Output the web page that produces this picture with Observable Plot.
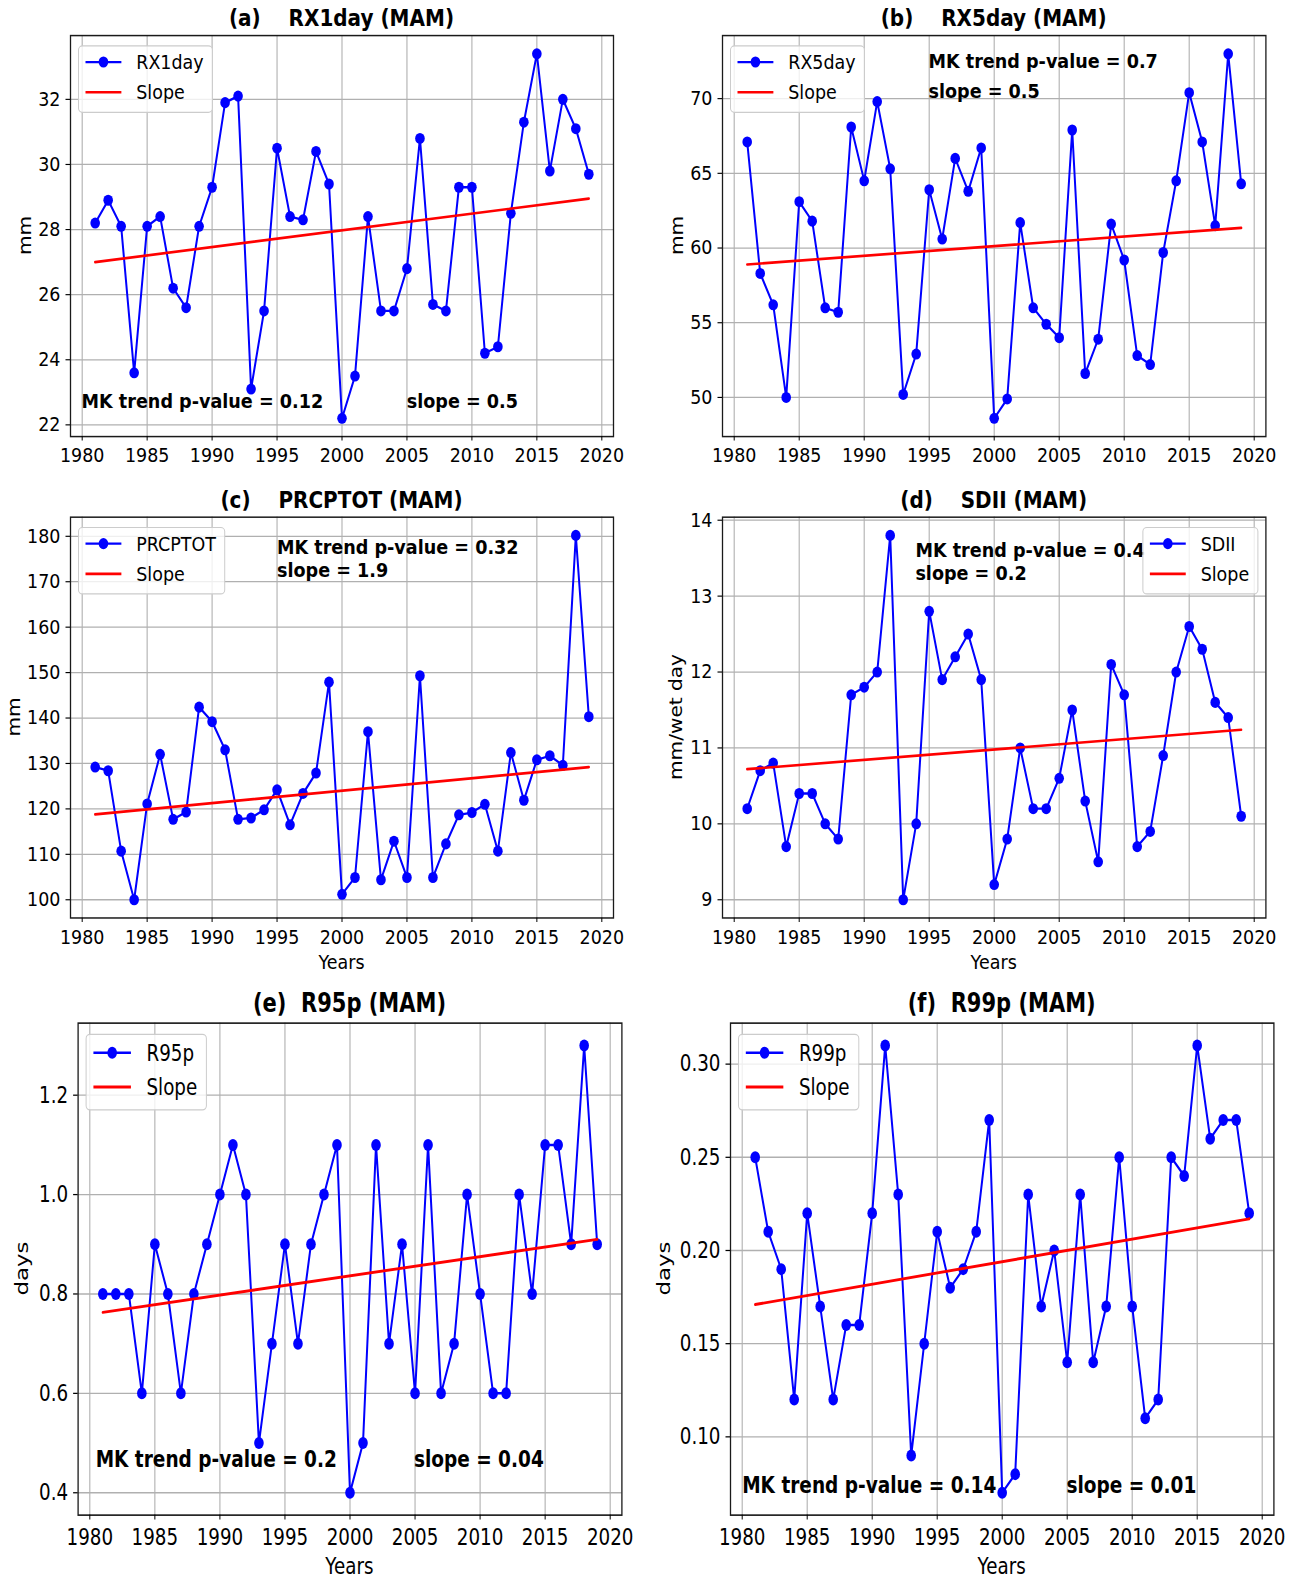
<!DOCTYPE html>
<html><head><meta charset="utf-8">
<script src="https://cdn.jsdelivr.net/npm/d3@7"></script>
<script src="https://cdn.jsdelivr.net/npm/@observablehq/plot@0.6"></script>
<style>
html,body{margin:0;padding:0;background:#fff;}
#chart{position:relative;width:1292px;height:1579px;background:#fff;overflow:hidden;}
#chart svg{position:absolute;overflow:visible;}
</style></head><body><div id="chart"></div>
<script>
// ---------------- data ----------------
const years = [1981,1982,1983,1984,1985,1986,1987,1988,1989,1990,1991,1992,1993,1994,1995,1996,1997,1998,1999,2000,
               2001,2002,2003,2004,2005,2006,2007,2008,2009,2010,2011,2012,2013,2014,2015,2016,2017,2018,2019];

const rx1day = [28.2,28.9,28.1,23.6,28.1,28.4,26.2,25.6,28.1,29.3,31.9,32.1,23.1,25.5,30.5,28.4,28.3,30.4,29.4,22.2,
                23.5,28.4,25.5,25.5,26.8,30.8,25.7,25.5,29.3,29.3,24.2,24.4,28.5,31.3,33.4,29.8,32.0,31.1,29.7];
const rx5day = [67.1,58.3,56.2,50.0,63.1,61.8,56.0,55.7,68.1,64.5,69.8,65.3,50.2,52.9,63.9,60.6,66.0,63.8,66.7,48.6,
                49.9,61.7,56.0,54.9,54.0,67.9,51.6,53.9,61.6,59.2,52.8,52.2,59.7,64.5,70.4,67.1,61.5,73.0,64.3];
const prcptot = [129.2,128.4,110.7,100.0,121.1,132.0,117.7,119.3,142.4,139.2,133.0,117.7,118.0,119.8,124.2,116.5,123.4,127.9,147.9,101.2,
                 104.9,137.0,104.4,112.9,104.9,149.3,104.9,112.3,118.7,119.2,121.0,110.7,132.4,121.9,130.8,131.7,129.6,180.2,140.3];
const sdii = [10.2,10.7,10.8,9.7,10.4,10.4,10.0,9.8,11.7,11.8,12.0,13.8,9.0,10.0,12.8,11.9,12.2,12.5,11.9,9.2,
              9.8,11.0,10.2,10.2,10.6,11.5,10.3,9.5,12.1,11.7,9.7,9.9,10.9,12.0,12.6,12.3,11.6,11.4,10.1];
const r95p = [0.8,0.8,0.8,0.6,0.9,0.8,0.6,0.8,0.9,1.0,1.1,1.0,0.5,0.7,0.9,0.7,0.9,1.0,1.1,0.4,
              0.5,1.1,0.7,0.9,0.6,1.1,0.6,0.7,1.0,0.8,0.6,0.6,1.0,0.8,1.1,1.1,0.9,1.3,0.9];
const r99p = [0.25,0.21,0.19,0.12,0.22,0.17,0.12,0.16,0.16,0.22,0.31,0.23,0.09,0.15,0.21,0.18,0.19,0.21,0.27,0.07,
              0.08,0.23,0.17,0.20,0.14,0.23,0.14,0.17,0.25,0.17,0.11,0.12,0.25,0.24,0.31,0.26,0.27,0.27,0.22];

// Sen's slope trend line end points (first and last year)
const trendYears = [1981, 2019];
const rx1daySlope = [27.0, 28.95];
const rx5daySlope = [58.9, 61.35];
const prcptotSlope = [118.8, 129.2];
const sdiiSlope = [10.72, 11.24];
const r95pSlope = [0.763, 0.91];
const r99pSlope = [0.171, 0.217];

// tick labels
const xTicks = [1980,1985,1990,1995,2000,2005,2010,2015,2020];
const rx1dayTicks = [22,24,26,28,30,32];
const rx5dayTicks = [50,55,60,65,70];
const prcptotTicks = [100,110,120,130,140,150,160,170,180];
const sdiiTicks = [9,10,11,12,13,14];
const r95pTicks = [0.4,0.6,0.8,1.0,1.2];
const r99pTicks = [0.10,0.15,0.20,0.25,0.30];

// texts
const titles = ["(a)    RX1day (MAM)","(b)    RX5day (MAM)","(c)    PRCPTOT (MAM)","(d)    SDII (MAM)","(e)  R95p (MAM)","(f)  R99p (MAM)"];
const seriesNames = ["RX1day","RX5day","PRCPTOT","SDII","R95p","R99p"];
const mkTexts = ["MK trend p-value = 0.12","MK trend p-value = 0.7","MK trend p-value = 0.32","MK trend p-value = 0.4","MK trend p-value = 0.2","MK trend p-value = 0.14"];
const slopeTexts = ["slope = 0.5","slope = 0.5","slope = 1.9","slope = 0.2","slope = 0.04","slope = 0.01"];
const yLabels = ["mm","mm","mm","mm/wet day","days","days"];
const xLabels = [null,null,"Years","Years","Years","Years"];

// ---------------- layout (page pixels) ----------------
const FONT = "'DejaVu Sans', 'Liberation Sans', sans-serif";
const layouts = [
  {left:0,   top:0,   w:646, h:470, s:1.15, fs:17.5, nfs:17.6, tfs:20, L:70,   R:613,    T:35,    B:436,   titleY:18,   yLabX:26.2,  xLabY:null,  mk:[81.6,400.8],  sl:[406.8,400.8], leg:"left",  xPad:6},
  {left:646, top:0,   w:646, h:470, s:1.15, fs:17.5, nfs:17.6, tfs:20, L:722,  R:1265.4, T:35,    B:436,   titleY:18,   yLabX:677.7, xLabY:null,  mk:[928.5,60.4],  sl:[928.5,90.6],  leg:"left",  xPad:6},
  {left:0,   top:470, w:646, h:505, s:1.15, fs:17.5, nfs:17.6, tfs:20, L:70,   R:613,    T:516.6, B:917.4, titleY:499.5, yLabX:15,   xLabY:961.7, mk:[277,546.8],   sl:[277,570],     leg:"left",  xPad:6},
  {left:646, top:470, w:646, h:505, s:1.15, fs:17.5, nfs:17.6, tfs:20, L:722,  R:1265.4, T:516.6, B:917.4, titleY:499.5, yLabX:676.7, xLabY:961.7, mk:[915.4,549.8], sl:[915.4,573],   leg:"right", xPad:6},
  {left:0,   top:975, w:646, h:604, s:1.25, fs:18.3, nfs:18.5, tfs:21, L:77.6, R:621.4,  T:1022.5, B:1514.5, titleY:1003, yLabX:22.2, xLabY:1566, mk:[95.7,1459.1],  sl:[413.9,1459.1], leg:"left", xPad:7},
  {left:646, top:975, w:646, h:604, s:1.25, fs:18.3, nfs:18.5, tfs:21, L:730,  R:1273.4, T:1022.5, B:1514.5, titleY:1003, yLabX:664.6, xLabY:1566, mk:[742.2,1484.3], sl:[1066.4,1484.3], leg:"left", xPad:7}
];

const seriesList = [rx1day, rx5day, prcptot, sdii, r95p, r99p];
const slopeList = [rx1daySlope, rx5daySlope, prcptotSlope, sdiiSlope, r95pSlope, r99pSlope];
const tickList = [rx1dayTicks, rx5dayTicks, prcptotTicks, sdiiTicks, r95pTicks, r99pTicks];
const fmtList = ["d","d","d","d",".1f",".2f"];

const BLUE = "#0000ff", RED = "#ff0000", GRID = "#b0b0b0";
const DOT_R = 4.8;
const container = document.getElementById("chart");

function build(i) {
  const g = layouts[i], s = g.s, fs = g.fs;
  const values = seriesList[i];
  const data = years.map((year, k) => ({year, value: values[k]}));
  const trend = trendYears.map((year, k) => ({year, value: slopeList[i][k]}));
  const [ylo, yhi] = d3.extent(values);
  const ypad = (yhi - ylo) * 0.05;
  const [xlo, xhi] = d3.extent(years);
  const xpad = (xhi - xlo) * 0.05;
  const hU = g.h / s;
  const mTop = (g.T - g.top) / s;
  const mBottom = (g.top + g.h - g.B) / s;
  const mLeft = g.L - g.left;
  const mRight = g.left + g.w - g.R;

  const svg = Plot.plot({
    width: g.w, height: hU,
    marginLeft: mLeft, marginRight: mRight, marginTop: mTop, marginBottom: mBottom,
    style: {fontFamily: FONT, fontSize: fs + "px", color: "#000", background: "transparent", overflow: "visible"},
    x: {domain: [xlo - xpad, xhi + xpad], label: null},
    y: {domain: [ylo - ypad, yhi + ypad], label: null},
    marks: [
      Plot.gridX({ticks: xTicks, stroke: GRID, strokeOpacity: 1, strokeWidth: 1.1}),
      Plot.gridY({ticks: tickList[i], stroke: GRID, strokeOpacity: 1, strokeWidth: 1.1}),
      Plot.line(data, {x: "year", y: "value", stroke: BLUE, strokeWidth: 2}),
      Plot.dot(data, {x: "year", y: "value", r: DOT_R, fill: BLUE}),
      Plot.line(trend, {x: "year", y: "value", stroke: RED, strokeWidth: 2.3}),
      Plot.frame({stroke: "#1a1a1a", strokeWidth: 1.3}),
      Plot.axisX({ticks: xTicks, tickFormat: d => String(d), tickSize: 4, tickPadding: g.xPad, label: null, fontSize: fs}),
      Plot.axisY({ticks: tickList[i], tickFormat: d3.format(fmtList[i]), tickSize: 4.5, tickPadding: 5.5, label: null, fontSize: fs})
    ]
  });

  svg.setAttribute("width", g.w);
  svg.setAttribute("height", g.h);
  svg.setAttribute("viewBox", `0 0 ${g.w} ${hU}`);
  svg.setAttribute("preserveAspectRatio", "none");
  svg.style.left = g.left + "px";
  svg.style.top = g.top + "px";
  svg.style.width = g.w + "px";
  svg.style.height = g.h + "px";
  svg.style.maxWidth = "none";
  container.appendChild(svg);

  const root = d3.select(svg);
  const ly = y => (y - g.top) / s;
  const lx = x => x - g.left;
  const cx = (mLeft + g.w - mRight) / 2;
  const cyFrame = (mTop + hU - mBottom) / 2;

  // title
  root.append("text").attr("x", cx).attr("y", ly(g.titleY)).attr("dy", "0.36em")
    .attr("text-anchor", "middle").attr("xml:space", "preserve").style("white-space", "pre")
    .style("font-family", FONT).style("font-weight", "bold").style("font-size", g.tfs + "px")
    .attr("fill", "#000").text(titles[i]);

  // y label
  root.append("text").attr("transform", `translate(${lx(g.yLabX)},${cyFrame}) rotate(-90)`)
    .attr("dy", "0.3em").attr("text-anchor", "middle")
    .style("font-family", FONT).style("font-size", fs + "px").attr("fill", "#000").text(yLabels[i]);

  // x label
  if (xLabels[i]) {
    root.append("text").attr("x", cx).attr("y", ly(g.xLabY)).attr("dy", "0.36em")
      .attr("text-anchor", "middle").style("font-family", FONT).style("font-size", fs + "px")
      .attr("fill", "#000").text(xLabels[i]);
  }

  // MK annotations
  for (const [pos, txt] of [[g.mk, mkTexts[i]], [g.sl, slopeTexts[i]]]) {
    root.append("text").attr("x", lx(pos[0])).attr("y", ly(pos[1])).attr("dy", "0.36em")
      .attr("text-anchor", "start").style("text-anchor", "start")
      .style("font-family", FONT).style("font-weight", "bold").style("font-size", g.nfs + "px")
      .attr("fill", "#000").text(txt);
  }

  // legend
  const lg = root.append("g").attr("text-anchor", "start").style("text-anchor", "start");
  const rect = lg.append("rect");
  const boxTop = mTop + 9.5;
  const row1 = boxTop + 0.8 * fs, row2 = row1 + 1.5 * fs;
  const t1 = lg.append("text").attr("y", row1).attr("dy", "0.36em").attr("text-anchor", "start")
    .style("font-family", FONT).style("font-size", fs + "px").attr("fill", "#000").text(seriesNames[i]);
  const t2 = lg.append("text").attr("y", row2).attr("dy", "0.36em").attr("text-anchor", "start")
    .style("font-family", FONT).style("font-size", fs + "px").attr("fill", "#000").text("Slope");
  const tw = Math.max(t1.node().getComputedTextLength(), t2.node().getComputedTextLength());
  const boxW = 3.3 * fs + tw + 0.5 * fs;
  const boxH = 3.3 * fs;
  const boxLeft = g.leg === "left" ? mLeft + 8.5 : (g.w - mRight) - 7.5 - boxW;
  rect.attr("x", boxLeft).attr("y", boxTop).attr("width", boxW).attr("height", boxH)
    .attr("rx", 4).attr("ry", 4 / s).attr("fill", "#fff").attr("fill-opacity", 0.8)
    .attr("stroke", "#cccccc").attr("stroke-width", 1);
  t1.attr("x", boxLeft + 3.3 * fs);
  t2.attr("x", boxLeft + 3.3 * fs);
  const sx0 = boxLeft + 0.4 * fs, sx1 = boxLeft + 2.45 * fs;
  lg.insert("line", "text").attr("x1", sx0).attr("x2", sx1).attr("y1", row1).attr("y2", row1)
    .attr("stroke", BLUE).attr("stroke-width", 2);
  lg.insert("circle", "text").attr("cx", (sx0 + sx1) / 2).attr("cy", row1).attr("r", DOT_R).attr("fill", BLUE);
  lg.insert("line", "text").attr("x1", sx0).attr("x2", sx1).attr("y1", row2).attr("y2", row2)
    .attr("stroke", RED).attr("stroke-width", 2.3);
}

for (let i = 0; i < 6; i++) build(i);
</script>
</body></html>
